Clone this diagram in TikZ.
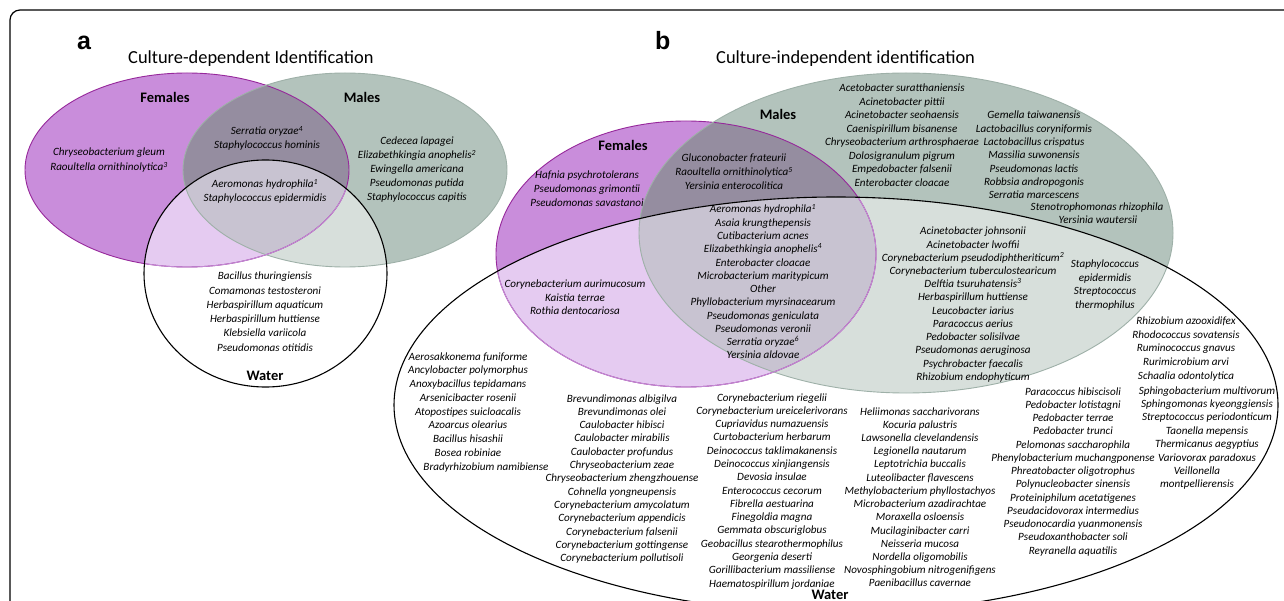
\documentclass[tikz,border=0pt]{standalone}
\usepackage{fontspec}
\setmainfont{Carlito}
\newfontfamily\arialfont{Liberation Sans}
\definecolor{fo}{RGB}{201,141,219}
\definecolor{mo}{RGB}{179,195,188}
\definecolor{fm}{RGB}{149,141,160}
\definecolor{fw}{RGB}{229,203,241}
\definecolor{mw}{RGB}{215,223,219}
\definecolor{fmw}{RGB}{200,195,209}
\definecolor{fline}{RGB}{150,40,155}
\definecolor{flinel}{RGB}{196,138,212}
\definecolor{mline}{RGB}{158,176,168}
\tikzset{
  sp/.style={font=\fontsize{11.1}{12}\selectfont\itshape, anchor=base, inner sep=0pt},
  lab/.style={font=\fontsize{14.5}{16}\selectfont\bfseries, anchor=base, inner sep=0pt},
  ttl/.style={font=\fontsize{18.4}{20}\selectfont, anchor=base west, inner sep=0pt},
  pnl/.style={font=\arialfont\fontsize{25}{26}\selectfont\bfseries, anchor=base west, inner sep=0pt},
  fl/.style={draw=fline, line width=0.9pt},
  fll/.style={draw=flinel, line width=0.9pt},
  ml/.style={draw=mline, line width=0.9pt},
  wl/.style={draw=black, line width=1.1pt},
  frame/.style={draw=black, line width=1.2pt, rounded corners=10pt}
}
\newcommand\splist[5]{\foreach \t [count=\i from 0] in {#5} {\node[sp] (#1-\i) at ({#2},{#3+\i*#4}) {\t};}}
\begin{document}
\begin{tikzpicture}[x=1pt,y=-1pt]
\useasboundingbox (0,0) rectangle (1284,601);
\clip (0,0) rectangle (1284,601);
\fill[white] (0,0) rectangle (1284,601);
\draw[frame] (10,700) |- (1400,10);

% ---------- panel a ----------
\def\Fa{(187,170) ellipse [x radius=162pt, y radius=97pt]}
\def\Ma{(345,170) ellipse [x radius=162pt, y radius=97pt]}
\def\Wa{(265.5,273.5) ellipse [x radius=121.5pt, y radius=113.5pt]}
\fill[fo] \Fa; \fill[mo] \Ma;
\begin{scope}\clip \Fa; \fill[fm] \Ma; \end{scope}
\begin{scope}\clip \Wa; \fill[white] \Wa; \fill[fw] \Fa; \fill[mw] \Ma; \clip \Fa; \fill[fmw] \Ma; \end{scope}
\draw[fl] \Fa; \draw[ml] \Ma;
\begin{scope}\clip \Wa; \draw[fll] \Fa; \end{scope}
\draw[wl] \Wa;

\node[pnl] (pa) at (77,50) {a};
\node[ttl] (ta) at (128,64) {Culture-dependent Identification};
\node[lab] (fa) at (165,103) {Females};
\node[lab] (ma) at (362,103) {Males};
\node[lab] (wa) at (265,380) {Water};
\splist{afo}{109}{156}{15}{Chryseobacterium gleum,Raoultella ornithinolytica\textsuperscript{3}}
\splist{afm}{267}{135}{14}{Serratia oryzae\textsuperscript{4},Staphylococcus hominis}
\splist{afmw}{265}{188}{14}{Aeromonas hydrophila\textsuperscript{1},Staphylococcus epidermidis}
\splist{amo}{417}{145}{14}{Cedecea lapagei,Elizabethkingia anophelis\textsuperscript{2},Ewingella americana,Pseudomonas putida,Staphylococcus capitis}
\splist{awo}{265}{280}{14.2}{Bacillus thuringiensis,Comamonas testosteroni,Herbaspirillum aquaticum,Herbaspirillum huttiense,Klebsiella variicola,Pseudomonas otitidis}

% ---------- panel b ----------
\def\Fb{(686,254) ellipse [x radius=190pt, y radius=133pt]}
\def\Mb{(906,233) ellipse [x radius=267pt, y radius=160pt]}
\def\Wb{(836,405) ellipse [x radius=442pt, y radius=208pt]}
\fill[fo] \Fb; \fill[mo] \Mb;
\begin{scope}\clip \Fb; \fill[fm] \Mb; \end{scope}
\begin{scope}\clip \Wb; \fill[white] \Wb; \fill[fw] \Fb; \fill[mw] \Mb; \clip \Fb; \fill[fmw] \Mb; \end{scope}
\draw[fl] \Fb; \draw[ml] \Mb;
\begin{scope}\clip \Wb; \draw[fll] \Fb; \end{scope}
\draw[wl] \Wb;

\node[pnl] (pb) at (655,50) {b};
\node[ttl] (tb) at (716,64) {Culture-independent identification};
\node[lab] (fb) at (623,151) {Females};
\node[lab] (mb) at (778,120) {Males};
\node[lab] (wb) at (830,599) {Water};

\splist{bfo}{587}{179}{14}{Hafnia psychrotolerans,Pseudomonas grimontii,Pseudomonas savastanoi}
\splist{bfm}{734}{162}{14}{Gluconobacter frateurii,Raoultella ornithinolytica\textsuperscript{5},Yersinia enterocolitica}
\splist{bfmw}{763}{213}{13.27}{Aeromonas hydrophila\textsuperscript{1},Asaia krungthepensis,Cutibacterium acnes,Elizabethkingia anophelis\textsuperscript{4},Enterobacter cloacae,Microbacterium maritypicum,Other,Phyllobacterium myrsinacearum,Pseudomonas geniculata,Pseudomonas veronii,Serratia oryzae\textsuperscript{6},Yersinia aldovae}
\splist{bfw}{575}{288}{13.5}{Corynebacterium aurimucosum,Kaistia terrae,Rothia dentocariosa}
\splist{bmoa}{902}{92}{13.43}{Acetobacter suratthaniensis,Acinetobacter pittii,Acinetobacter seohaensis,Caenispirillum bisanense,Chryseobacterium arthrosphaerae,Dolosigranulum pigrum,Empedobacter falsenii,Enterobacter cloacae}
\splist{bmob}{1034}{119}{13.33}{Gemella taiwanensis,Lactobacillus coryniformis,Lactobacillus crispatus,Massilia suwonensis,Pseudomonas lactis,Robbsia andropogonis,Serratia marcescens}
\node[sp] (bmoc) at (1097,211) {Stenotrophomonas rhizophila};
\node[sp] (bmod) at (1098,224) {Yersinia wautersii};
\splist{bmwa}{973}{235}{13.2}{Acinetobacter johnsonii,Acinetobacter lwoffii,Corynebacterium pseudodiphtheriticum\textsuperscript{2},Corynebacterium tuberculostearicum,Delftia tsuruhatensis\textsuperscript{3},Herbaspirillum huttiense,Leucobacter iarius,Paracoccus aerius,Pedobacter solisilvae,Pseudomonas aeruginosa,Psychrobacter faecalis,Rhizobium endophyticum}
\splist{bmwb}{1105}{268}{13.4}{Staphylococcus,epidermidis,Streptococcus,thermophilus}

\splist{bwa}{468}{360}{13.75}{Aerosakkonema funiforme,Ancylobacter polymorphus,Anoxybacillus tepidamans,Arsenicibacter rosenii,Atopostipes suicloacalis,Azoarcus olearius,Bacillus hisashii,Bosea robiniae}
\node[sp] (bwa-8) at (486,470) {Bradyrhizobium namibiense};
\splist{bwb}{622}{402}{13.33}{Brevundimonas albigilva,Brevundimonas olei,Caulobacter hibisci,Caulobacter mirabilis,Caulobacter profundus,Chryseobacterium zeae,Chryseobacterium zhengzhouense,Cohnella yongneupensis,Corynebacterium amycolatum,Corynebacterium appendicis,Corynebacterium falsenii,Corynebacterium gottingense,Corynebacterium pollutisoli}
\splist{bwc}{772}{401}{13.29}{Corynebacterium riegelii,Corynebacterium ureicelerivorans,Cupriavidus numazuensis,Curtobacterium herbarum,Deinococcus taklimakanensis,Deinococcus xinjiangensis,Devosia insulae,Enterococcus cecorum,Fibrella aestuarina,Finegoldia magna,Gemmata obscuriglobus,Geobacillus stearothermophilus,Georgenia deserti,Gorillibacterium massiliense,Haematospirillum jordaniae}
\splist{bwd}{920}{415}{13.23}{Heliimonas saccharivorans,Kocuria palustris,Lawsonella clevelandensis,Legionella nautarum,Leptotrichia buccalis,Luteolibacter flavescens,Methylobacterium phyllostachyos,Microbacterium azadirachtae,Moraxella osloensis,Mucilaginibacter carri,Neisseria mucosa,Nordella oligomobilis,Novosphingobium nitrogenifigens,Paenibacillus cavernae}
\splist{bwe}{1073}{395}{13.25}{Paracoccus hibiscisoli,Pedobacter lotistagni,Pedobacter terrae,Pedobacter trunci,Pelomonas saccharophila,Phenylobacterium muchangponense,Phreatobacter oligotrophus,Polynucleobacter sinensis,Proteiniphilum acetatigenes,Pseudacidovorax intermedius,Pseudonocardia yuanmonensis,Pseudoxanthobacter soli,Reyranella aquatilis}
\splist{bwf}{1186}{325}{13.5}{Rhizobium azooxidifex,Rhodococcus sovatensis,Ruminococcus gnavus,Rurimicrobium arvi,Schaalia odontolytica}
\splist{bwg}{1207}{394}{13.4}{Sphingobacterium multivorum,Sphingomonas kyeonggiensis,Streptococcus periodonticum,Taonella mepensis,Thermicanus aegyptius,Variovorax paradoxus}
\splist{bwh}{1197}{474}{13.5}{Veillonella,montpellierensis}
\end{tikzpicture}
\end{document}
